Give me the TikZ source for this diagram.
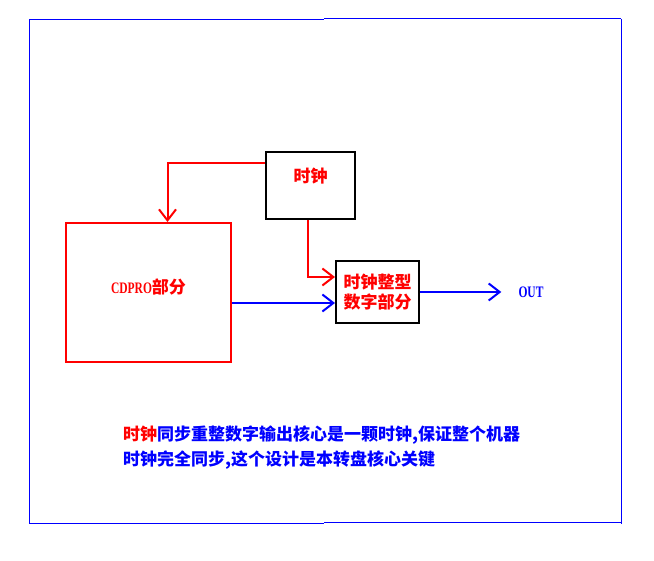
\documentclass[tikz,border=0pt]{standalone}
\usepackage{fontspec}
\setmainfont{Liberation Serif}
\newfontfamily\latn{Liberation Serif}[FakeStretch=0.72,UprightFont={* Bold},BoldFont={* Bold}]
\newfontfamily\cjk{Noto Sans CJK SC}
\usetikzlibrary{arrows.meta,calc}
\begin{document}
\begin{tikzpicture}[x=1pt,y=-1pt,
  frameline/.style={draw=blue,line width=1pt},
  redline/.style={draw=red,line width=2pt},
  blueline/.style={draw=blue,line width=2pt},
  barb/.style={-{Straight Barb[length=11pt,width=17pt]}},
  blockbox/.style={line width=2pt,inner sep=0pt,font=\cjk\bfseries\fontsize{17}{20.5}\selectfont,text=red,align=center},
  outlabel/.style={font=\latn\fontsize{16}{18}\selectfont,text=blue,inner sep=0pt},
  note/.style={font=\cjk\bfseries\fontsize{17}{25}\selectfont,text=blue,align=left,anchor=west,inner sep=0pt}]
\useasboundingbox (0,0) rectangle (654,561);
% outer frame
\draw[frameline] (29,20) -- (324,20);
\draw[frameline] (324,19) -- (621,19);
\draw[frameline] (29,19.5) -- (29,523.5);
\draw[frameline] (29,523) -- (324,523);
\draw[frameline] (324,522) -- (621,522);
\draw[frameline] (621,19) -- (621,523.5);
% blocks
\node[blockbox,draw=red,minimum width=165pt,minimum height=139pt] (cdpro) at (148.5,292.5) {\raisebox{-1pt}[0pt][0pt]{{\latn\fontsize{16}{18}\selectfont CDPRO}部分}};
\node[blockbox,draw=black,minimum width=89pt,minimum height=67pt] (clock) at (310.5,185.5) {\raisebox{3pt}[0pt][0pt]{时钟}};
\node[blockbox,draw=black,minimum width=83pt,minimum height=62pt] (dig) at (377.5,292) {时钟整型\\数字部分};
\node[outlabel] (out) at (531,292) {OUT};
% connectors
\coordinate (clkout) at ([yshift=-12pt]clock.north west);
\coordinate (cdin) at ([xshift=19pt]cdpro.north);
\draw[redline,barb] (clkout) -| (cdin);
\coordinate (clkdown) at ([xshift=-2.5pt]clock.south);
\coordinate (digclk) at ([yshift=15pt]dig.west);
\draw[redline,barb] (clkdown) |- (digclk);
\coordinate (digdata) at ([yshift=-11pt]dig.west);
\draw[blueline,barb] (cdpro.east |- digdata) -- (digdata);
\draw[blueline,barb,shorten >=17pt] (dig.east) -- (out.west);
% note
\node[note] (txt) at (123,447.5) {{\color{red}时钟}同步重整数字输出核心是一颗时钟,保证整个机器\\时钟完全同步,这个设计是本转盘核心关键};
\end{tikzpicture}
\end{document}
